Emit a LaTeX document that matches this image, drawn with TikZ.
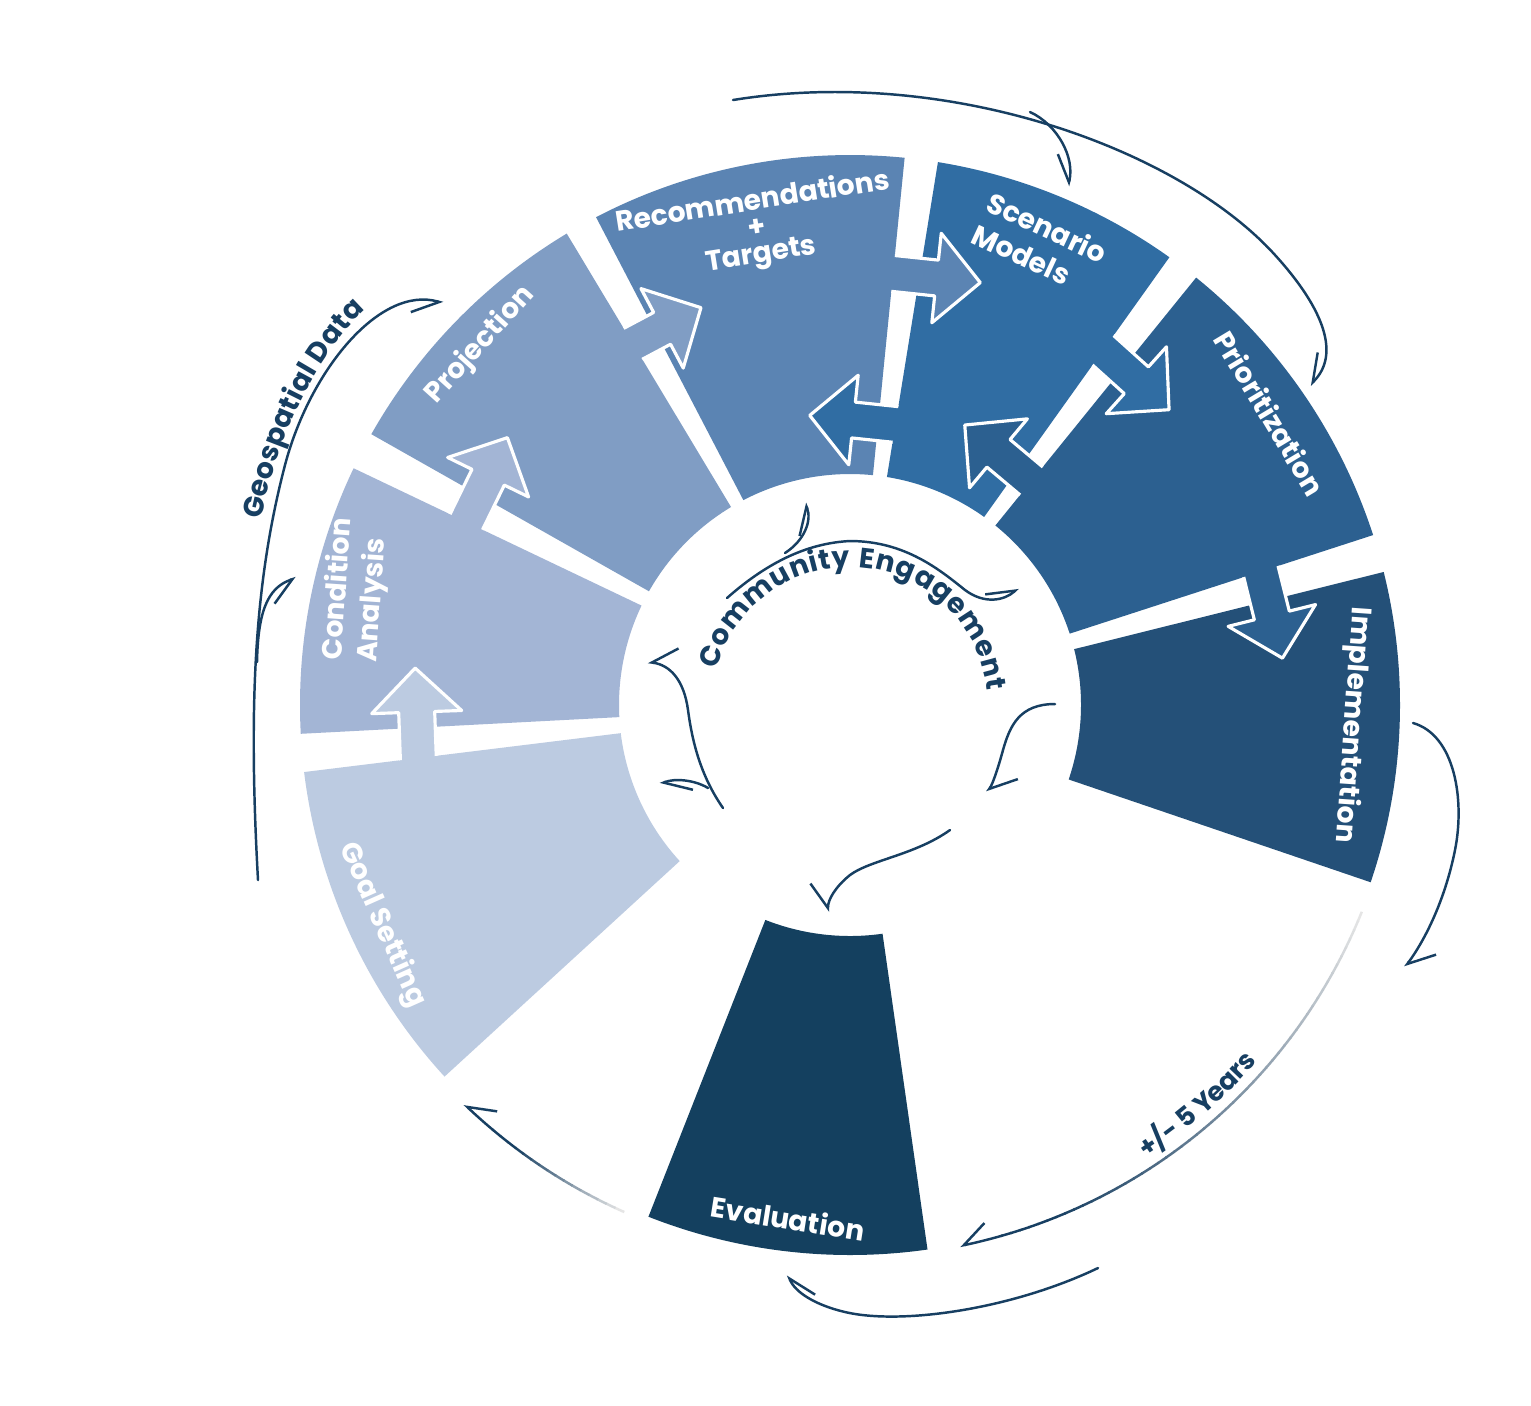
\documentclass[tikz,border=0pt]{standalone}
\usepackage{fontspec}
\setmainfont{Poppins}
\usetikzlibrary{arrows.meta,decorations.text}

\definecolor{goalc}{HTML}{BCCBE1}
\definecolor{condc}{HTML}{A3B5D5}
\definecolor{projc}{HTML}{809DC4}
\definecolor{recoc}{HTML}{5B84B3}
\definecolor{scenc}{HTML}{306DA3}
\definecolor{prioc}{HTML}{2C6090}
\definecolor{implc}{HTML}{245078}
\definecolor{evalc}{HTML}{14405F}
\definecolor{ink}{HTML}{173F62}
\colorlet{fade}{black!10}

\tikzset{
  seglabel/.style={text=white, inner sep=0pt, font=\bfseries\fontsize{8}{10}\selectfont},
  flow/.style={draw=ink, line width=0.7pt, line cap=round},
  ltip/.style={-{Straight Barb[harpoon, length=7pt, width=10pt]}},
  rtip/.style={-{Straight Barb[harpoon, swap, length=7pt, width=10pt]}},
}

% one sector of the ring (angles clockwise from the right, y points down)
\newcommand{\ringpart}[3]{%
  \fill[#1] ([shift={(#2:550)}]C) arc[start angle=#2, end angle=#3, radius=550]
    -- ([shift={(#3:231)}]C) arc[start angle=#3, end angle=#2, radius=231] -- cycle;}

% block arrow across a gap: colour, base, direction, length, wedge for the outline
\newcommand{\passarrow}[6]{%
  \fill[#1, shift={(#2)}, rotate=-#3] (0,-18) -- (#4-44,-18) -- (#4-44,-45) -- (#4,0)
    -- (#4-44,45) -- (#4-44,18) -- (0,18) -- cycle;
  \begin{scope}
    \clip (C) -- ([shift={(#5:1500)}]C) -- ([shift={({(#5+#6)/2}:1500)}]C) -- ([shift={(#6:1500)}]C) -- cycle;
    \draw[white, line width=0.9pt, line join=round, shift={(#2)}, rotate=-#3] (0,-18) -- (#4-44,-18)
      -- (#4-44,-45) -- (#4,0) -- (#4-44,45) -- (#4-44,18) -- (0,18) -- cycle;
  \end{scope}}

\begin{document}
\begin{tikzpicture}[x=0.01cm, y=-0.01cm]
  \useasboundingbox (0,0) rectangle (1531,1405);
  \fill[white] (0,0) rectangle (1531,1405);
  \coordinate (C) at (850,705);

  % the ring
  \ringpart{goalc}{137.5}{173}
  \ringpart{condc}{177}{205.5}
  \ringpart{projc}{209.5}{239}
  \ringpart{recoc}{242.5}{275.7}
  \ringpart{scenc}{279.2}{305.5}
  \ringpart{prioc}{309}{342}
  \ringpart{implc}{346}{378.8}
  \ringpart{evalc}{81.9}{111.5}

  % arrows across the gaps
  \passarrow{goalc}{419,778}{268}{110}{173}{215}
  \passarrow{condc}{457,541}{296}{115}{205.5}{245}
  \passarrow{projc}{595,364}{332}{120}{239}{280}
  \passarrow{recoc}{851,269}{6}{130}{275.7}{310}
  \passarrow{scenc}{939,429}{186}{130}{279.2}{240}
  \passarrow{scenc}{1065,316}{42}{140}{305.5}{345}
  \passarrow{prioc}{1072,515}{220}{140}{309}{275}
  \passarrow{prioc}{1251,532}{76}{130}{342}{380}

  % labels
  \node[seglabel, rotate=-66] (goal) at (382,925) {Goal Setting};
  \node[seglabel, rotate=86, align=left] (cond) at (356,590) {Condition\\Analysis};
  \node[seglabel, rotate=48] (proj) at (480,345) {Projection};
  \node[seglabel, rotate=9, align=center] (reco) at (757,229) {Recommendations\\[-2.5pt]+\\[-2.5pt]Targets};
  \node[seglabel, rotate=-25, align=left] (scen) at (1040,243) {Scenario\\Models};
  \node[seglabel, rotate=-59] (prio) at (1270,413) {Prioritization};
  \node[seglabel, rotate=-94] (impl) at (1352,725) {Implementation};
  \node[seglabel, rotate=-9] (eval) at (788,1218) {Evaluation};

  % community engagement in the middle
  \path[decorate, decoration={text along path, text align={fit to path},
    text={|\bfseries\fontsize{8}{9}\selectfont\color{ink}|Community Engagement}}]
    ([shift={(195:138)}]C) arc[start angle=195, end angle=354, radius=138];
  \draw[flow, ltip] (727,598) .. controls (770,560) and (810,543) .. (850,541)
    .. controls (905,541) and (940,570) .. (965,590) .. controls (985,605) and (1005,600) .. (1018,588);
  \draw[flow, ltip] (785,553) .. controls (805,540) and (812,520) .. (805,503);
  \draw[flow, rtip] (723,808) .. controls (700,775) and (692,740) .. (688,710)
    .. controls (684,680) and (670,665) .. (648,662);
  \draw[flow, ltip] (708,788) .. controls (695,780) and (675,778) .. (660,784);
  \draw[flow, ltip] (1055,704) .. controls (1020,704) and (1010,725) .. (1003,750)
    .. controls (997,772) and (992,785) .. (987,792);
  \draw[flow, rtip] (950,830) .. controls (915,855) and (870,860) .. (850,875)
    .. controls (835,887) and (828,900) .. (828,912);

  % geospatial data
  \coordinate (geoA) at (258,880);
  \coordinate (geoB) at (443,303);
  \coordinate (geoC) at (296,578);
  \draw[flow, rtip] (geoA) .. controls (248,700) and (255,580) .. (285,465)
    .. controls (310,370) and (380,285) .. (geoB);
  \draw[flow, rtip] (257,662) .. controls (258,615) and (266,588) .. (geoC);
  \path[decorate, decoration={text along path, text align=center, raise=2pt,
    text={|\bfseries\fontsize{8}{9}\selectfont\color{ink}|Geospatial Data}}]
    (262,560) .. controls (272,470) and (310,380) .. (360,325) .. controls (375,310) and (390,300) .. (405,296);

  % loop over the top
  \coordinate (topA) at (733,100);
  \coordinate (topB) at (1310,385);
  \coordinate (topC) at (1068,186);
  \draw[flow, rtip] (topA) .. controls (950,65) and (1180,150) .. (1275,255)
    .. controls (1325,310) and (1340,355) .. (topB);
  \draw[flow, rtip] (1030,112) .. controls (1058,125) and (1075,158) .. (topC);

  % right side
  \coordinate (rgtA) at (1413,723);
  \coordinate (rgtB) at (1405,967);
  \draw[flow, ltip] (rgtA) .. controls (1455,735) and (1465,800) .. (1455,850)
    .. controls (1445,900) and (1425,940) .. (rgtB);

  % +/- 5 years, fading in
  \foreach \a in {22,...,73} {
    \pgfmathtruncatemacro{\p}{min(100,(\a-22)*2.2)}
    \draw[line width=0.7pt, ink!\p!fade] ([shift={(\a:552)}]C) arc[start angle=\a, end angle=\a+1.1, radius=552];
  }
  \draw[flow, rtip] ([shift={(74:552)}]C) arc[start angle=74, end angle=78.5, radius=552];
  \path[decorate, decoration={text along path, text align=center, raise=3pt,
    text={|\bfseries\fontsize{7.5}{9}\selectfont\color{ink}|+/- 5 Years}}]
    ([shift={(66:552)}]C) arc[start angle=66, end angle=32, radius=552];

  % evaluation back to goal setting
  \foreach \a in {114,...,129} {
    \pgfmathtruncatemacro{\p}{min(100,(\a-114)*8)}
    \draw[line width=0.7pt, ink!\p!fade] ([shift={(\a:555)}]C) arc[start angle=\a, end angle=\a+1.1, radius=555];
  }
  \draw[flow, rtip] ([shift={(130:555)}]C) arc[start angle=130, end angle=134, radius=555];

  % bottom loop
  \coordinate (botA) at (1098,1268);
  \coordinate (botB) at (788,1275);
  \draw[flow, rtip] (botA) .. controls (1010,1310) and (900,1325) .. (845,1312)
    .. controls (815,1305) and (795,1292) .. (botB);
\end{tikzpicture}
\end{document}
